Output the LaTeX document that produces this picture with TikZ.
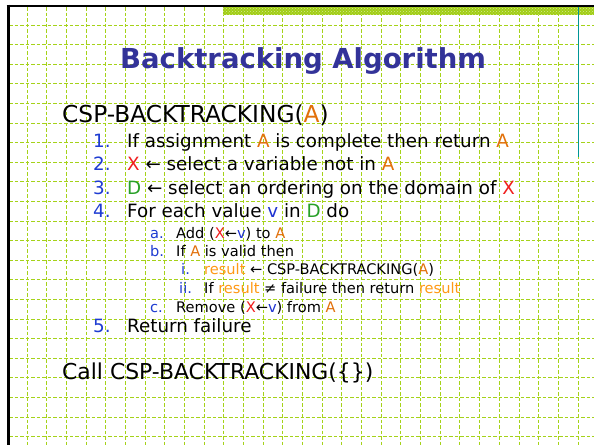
\documentclass[tikz,border=0pt]{standalone}
\usepackage{fontspec}
\setmainfont{DejaVu Sans}
\usetikzlibrary{patterns}

\definecolor{gridgreen}{RGB}{165,210,25}
\definecolor{bandgreen}{RGB}{160,205,20}
\definecolor{titleblue}{RGB}{51,51,153}
\definecolor{numblue}{RGB}{30,60,210}
\definecolor{varA}{RGB}{226,112,10}
\definecolor{varres}{RGB}{255,153,20}
\definecolor{varX}{RGB}{240,30,30}
\definecolor{varD}{RGB}{40,160,40}
\definecolor{varv}{RGB}{30,50,210}
\definecolor{sidebar}{RGB}{0,150,150}

\newcommand\vA{\textcolor{varA}{A}}
\newcommand\vX{\textcolor{varX}{X}}
\newcommand\vD{\textcolor{varD}{D}}
\newcommand\vv{\textcolor{varv}{v}}
\newcommand\vres{\textcolor{varres}{result}}

\tikzset{
  gridline/.style={gridgreen, line width=1pt, dash pattern=on 3.5pt off 2pt},
  headtext/.style={anchor=base west, inner sep=0pt, font=\fontsize{23.3}{27}\selectfont},
  calltext/.style={anchor=base west, inner sep=0pt, font=\fontsize{21.9}{25}\selectfont},
  maintext/.style={anchor=base west, inner sep=0pt, font=\fontsize{18.3}{21}\selectfont},
  subtext/.style={anchor=base west, inner sep=0pt, font=\fontsize{14.6}{17}\selectfont},
  mainnum/.style={maintext, text=numblue},
  subnum/.style={subtext, text=numblue},
}

\begin{document}
\begin{tikzpicture}[x=1pt,y=-1pt]
\useasboundingbox (0,0) rectangle (594,445);
\fill[white] (0,0) rectangle (594,445);

% dashed grid
\foreach \i in {0,...,28}
  \draw[gridline] ({27+19.68*\i},7) -- ({27+19.68*\i},445);
\foreach \j in {1,...,22}
  \draw[gridline] (9,{5.4+19.6*\j}) -- (594,{5.4+19.6*\j});

% hatched band along the top
\fill[bandgreen] (223,6.5) rectangle (594,14.5);
\fill[pattern=crosshatch dots, pattern color=white!55!bandgreen] (223,6.5) rectangle (594,14.5);

% frame lines
\draw[line width=2pt] (6.5,5.5) -- (594,5.5);
\draw[line width=3pt] (8,4.5) -- (8,445);
\draw[sidebar, line width=1pt] (578,6.5) -- (578,157);

% title
\node[anchor=base west, inner sep=0pt, font=\bfseries\fontsize{27.5}{31}\selectfont, text=titleblue]
  (title) at (120,68) {Backtracking Algorithm};

% algorithm
\node[headtext] (head) at (62,122) {CSP-BACKTRACKING(\vA)};

\node[mainnum] (n1) at (93,147) {1.};
\node[maintext] (s1) at (127,147) {If assignment \vA{} is complete then return \vA};
\node[mainnum] (n2) at (93,170) {2.};
\node[maintext] (s2) at (127,170) {\vX{} ← select a variable not in \vA};
\node[mainnum] (n3) at (93,194) {3.};
\node[maintext] (s3) at (127,194) {\vD{} ← select an ordering on the domain of \vX};
\node[mainnum] (n4) at (93,217) {4.};
\node[maintext] (s4) at (127,217) {For each value \vv{} in \vD{} do};

\node[subnum] (na) at (150,238) {a.};
\node[subtext] (sa) at (176,238) {Add (\vX←\vv) to \vA};
\node[subnum] (nb) at (150,256) {b.};
\node[subtext] (sb) at (176,256) {If \vA{} is valid then};
\node[subnum] (ni) at (181,274) {i.};
\node[subtext] (si) at (204,274) {\vres{} ← CSP-BACKTRACKING(\vA)};
\node[subnum] (nii) at (179,293) {ii.};
\node[subtext] (sii) at (204,293) {If \vres{} ≠ failure then return \vres};
\node[subnum] (nc) at (150,312) {c.};
\node[subtext] (sc) at (176,312) {Remove (\vX←\vv) from \vA};

\node[mainnum] (n5) at (93,332) {5.};
\node[maintext] (s5) at (127,332) {Return failure};

\node[calltext] (call) at (62,379) {Call CSP-BACKTRACKING(\{\})};
\end{tikzpicture}
\end{document}
